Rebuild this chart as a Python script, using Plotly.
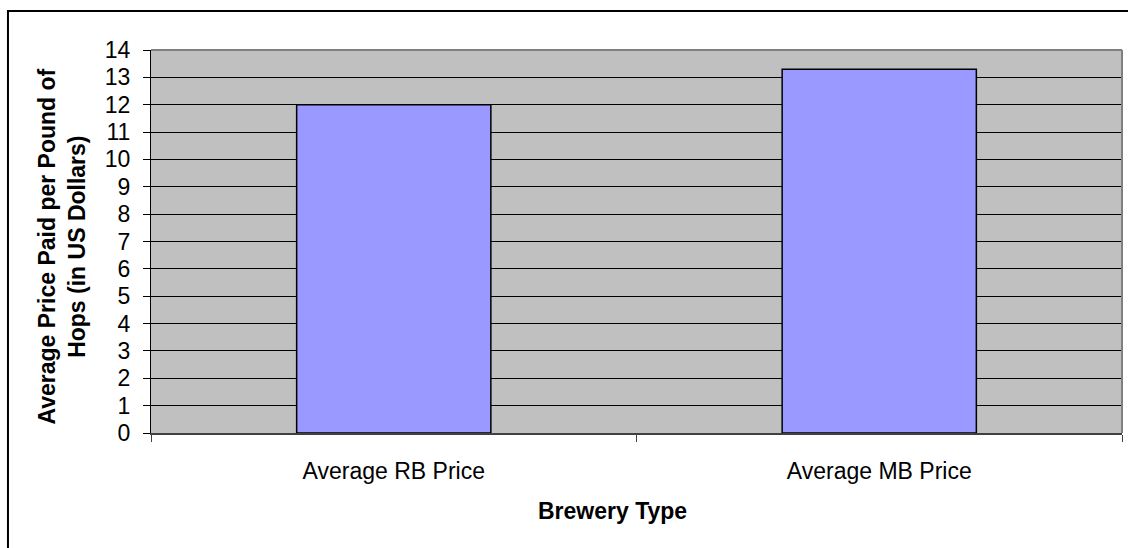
import plotly.graph_objects as go

# Average hop prices by brewery type
categories = ["Average RB Price", "Average MB Price"]
avg_price = [12.0, 13.3]
y_ticks = list(range(0, 15))

FONT = "Liberation Sans, Arial, sans-serif"
SIZE = 23

fig = go.Figure(
    go.Bar(
        x=categories,
        y=avg_price,
        marker=dict(color="#9999FF", line=dict(color="#000000", width=1.5)),
        width=0.4,
    )
)

fig.update_layout(
    width=1128,
    height=548,
    margin=dict(l=151, r=6, t=50, b=115),
    paper_bgcolor="#FFFFFF",
    plot_bgcolor="#C0C0C0",
    showlegend=False,
    font=dict(family=FONT, color="#000000", size=SIZE),
)

fig.update_xaxes(
    type="category",
    showgrid=False,
    ticks="outside",
    tickson="boundaries",
    ticklen=7,
    tickcolor="#404040",
    showline=True,
    linecolor="#404040",
    linewidth=2,
    ticklabelstandoff=16,
    tickfont=dict(size=SIZE),
)

fig.update_yaxes(
    range=[0, 14],
    tickvals=y_ticks,
    ticktext=[str(v) for v in y_ticks],
    showgrid=True,
    gridcolor="#000000",
    gridwidth=1,
    zeroline=False,
    ticks="outside",
    ticklen=7,
    tickcolor="#000000",
    showline=True,
    linecolor="#000000",
    linewidth=1,
    ticklabelstandoff=8,
    tickfont=dict(size=SIZE),
)

# Gray frame on the top and right sides of the plot area
fig.add_shape(type="line", xref="paper", yref="paper", x0=0, x1=1, y0=1, y1=1,
              line=dict(color="#808080", width=2), layer="above")
fig.add_shape(type="line", xref="paper", yref="paper", x0=1, x1=1, y0=0, y1=1,
              line=dict(color="#808080", width=2), layer="above")

# Outer chart border
fig.add_shape(type="rect", xref="paper", yref="paper",
              x0=-0.1473, x1=1.2, y0=-0.6, y1=1.1018,
              line=dict(color="#000000", width=2), fillcolor="rgba(0,0,0,0)",
              layer="below")

# Axis titles
fig.add_annotation(
    text="<b>Average Price Paid per Pound of<br>Hops (in US Dollars)</b>",
    xref="paper", yref="paper", x=-0.092, y=0.486,
    xanchor="center", yanchor="middle", textangle=-90,
    showarrow=False, font=dict(size=SIZE, family=FONT), align="center",
)
fig.add_annotation(
    text="<b>Brewery Type</b>",
    xref="paper", yref="paper", x=0.475, y=-0.204,
    xanchor="center", yanchor="middle",
    showarrow=False, font=dict(size=SIZE, family=FONT),
)

fig.write_html("out.html")
